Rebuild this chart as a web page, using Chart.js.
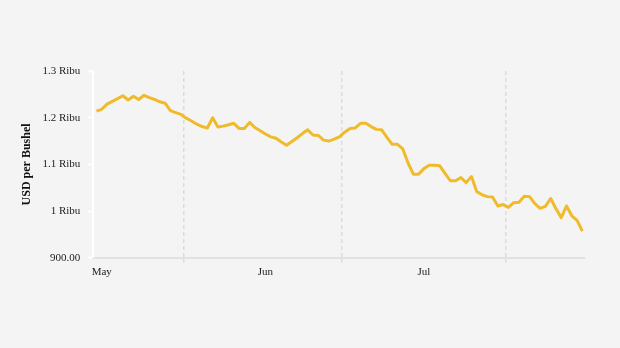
<!DOCTYPE html>
<html>
<head>
<meta charset="utf-8">
<script src="https://cdn.jsdelivr.net/npm/chart.js@4.4.0/dist/chart.umd.min.js"></script>
<style>
html, body { margin: 0; padding: 0; background: #f4f4f4; }
</style>
</head>
<body>
<canvas id="c" width="620" height="348"></canvas>
<script>
// days counted from 1 May, first point is 15 May
const firstDay = 14
const prices = [
    1214, 1218, 1229, 1235, 1241, 1247, 1238, 1246, 1239, 1248,
    1243, 1239, 1234, 1231, 1215, 1211, 1207, 1199, 1193, 1186,
    1181, 1178, 1200, 1180, 1182, 1185, 1188, 1177, 1177, 1190,
    1179, 1172, 1165, 1159, 1156, 1148, 1141, 1149, 1157, 1166,
    1174, 1163, 1162, 1152, 1150, 1154, 1159, 1169, 1177, 1178,
    1188, 1188, 1181, 1175, 1174, 1158, 1143, 1143, 1133, 1103,
    1079, 1079, 1091, 1098, 1098, 1097, 1081, 1065, 1065, 1072,
    1061, 1074, 1042, 1035, 1031, 1030, 1011, 1014, 1008, 1018,
    1019, 1032, 1031, 1016, 1006, 1010, 1027, 1005, 986, 1011,
    990, 980, 957
]
const monthLabels = ['May', 'Jun', 'Jul']
const monthMids = [15, 46, 76]
const monthEdges = [30.5, 60.5, 91.5]
const yTicks = [900, 1000, 1100, 1200, 1300]
const yTickLabels = ['900.00', '1 Ribu', '1.1 Ribu', '1.2 Ribu', '1.3 Ribu']

const serif = "'Liberation Serif', 'DejaVu Serif', serif"
const points = prices.map((p, i) => ({ x: firstDay + i, y: p }))
const isEdge = v => monthEdges.indexOf(v) >= 0

new Chart(document.getElementById('c'), {
    type: 'line',
    data: {
        datasets: [{
            data: points,
            borderColor: '#f0bb2a',
            borderWidth: 3,
            pointRadius: 0,
            tension: 0,
            borderJoinStyle: 'round'
        }]
    },
    options: {
        responsive: false,
        animation: false,
        layout: { padding: { left: 20, right: 35, top: 71, bottom: 66 } },
        plugins: { legend: { display: false }, tooltip: { enabled: false } },
        scales: {
            x: {
                type: 'linear',
                min: 13.4,
                max: 106.5,
                afterBuildTicks: axis => {
                    axis.ticks = monthEdges.concat(monthMids).sort((a, b) => a - b).map(v => ({ value: v }))
                },
                ticks: {
                    autoSkip: false,
                    maxRotation: 0,
                    padding: 3,
                    color: '#222',
                    font: { family: serif, size: 11 },
                    callback: v => {
                        const i = monthMids.indexOf(v)
                        return i >= 0 ? monthLabels[i] : ''
                    }
                },
                grid: {
                    color: ctx => ctx.tick && isEdge(ctx.tick.value) ? '#dcdcdc' : 'rgba(0,0,0,0)',
                    tickColor: ctx => ctx.tick && isEdge(ctx.tick.value) ? '#dcdcdc' : 'rgba(0,0,0,0)',
                    lineWidth: 1.5,
                    tickLength: 5
                },
                border: { color: '#e2e2e2', width: 2, dash: [4, 3] }
            },
            y: {
                min: 900,
                max: 1300,
                afterBuildTicks: axis => {
                    axis.ticks = yTicks.map(v => ({ value: v }))
                },
                ticks: {
                    padding: 8,
                    color: '#222',
                    font: { family: serif, size: 11 },
                    callback: v => yTickLabels[yTicks.indexOf(v)]
                },
                grid: {
                    drawOnChartArea: false,
                    tickColor: '#ffffff',
                    tickWidth: 2,
                    tickLength: 5
                },
                border: { color: '#ffffff', width: 2 },
                title: {
                    display: true,
                    text: 'USD per Bushel',
                    color: '#111',
                    font: { family: serif, size: 12, weight: 'bold' },
                    padding: { top: 0, bottom: 0 }
                }
            }
        }
    }
})
</script>
</body>
</html>
